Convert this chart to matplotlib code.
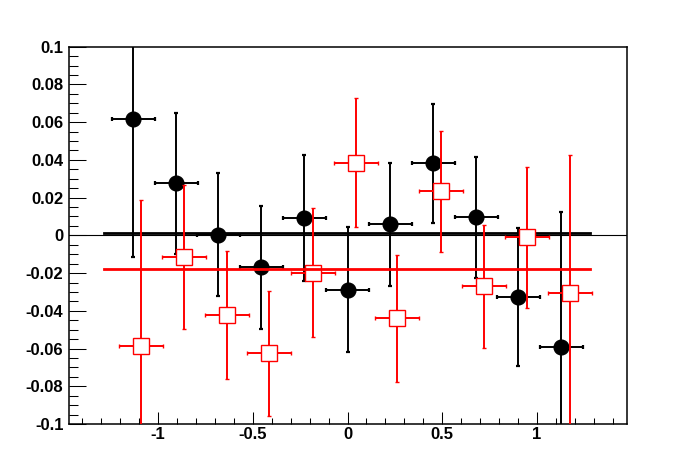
import matplotlib
matplotlib.use("Agg")
import matplotlib.pyplot as plt
from matplotlib.ticker import MultipleLocator, FuncFormatter
import numpy as np

plt.rcParams['font.family'] = ['Liberation Sans', 'DejaVu Sans']
plt.rcParams['axes.unicode_minus'] = False

# Black series (filled circles)
black_x = [-1.130, -0.903, -0.682, -0.455, -0.228, 0.000, 0.226, 0.453, 0.680, 0.901, 1.127]
black_y = [0.0616, 0.0275, 0.0003, -0.0170, 0.0091, -0.0287, 0.0058, 0.0383, 0.0096, -0.0328, -0.0594]
black_yerr = [0.0730, 0.0372, 0.0325, 0.0325, 0.0334, 0.0330, 0.0324, 0.0316, 0.0320, 0.0365, 0.0717]
black_xerr = [0.114] * 11

# Red series (open squares)
red_x = [-1.088, -0.861, -0.635, -0.414, -0.180, 0.046, 0.262, 0.495, 0.722, 0.949, 1.176]
red_y = [-0.0584, -0.0117, -0.0424, -0.0626, -0.0197, 0.0386, -0.0440, 0.0233, -0.0271, -0.0011, -0.0308]
red_yerr = [0.0771, 0.0382, 0.0340, 0.0332, 0.0340, 0.0340, 0.0337, 0.0321, 0.0325, 0.0373, 0.0733]
red_xerr = [0.116] * 11

# Fitted constants and their range
black_fit = 0.0015
red_fit = -0.0176
fit_range = [-1.285, 1.278]

xlim = (-1.47, 1.473)
ylim = (-0.1, 0.1)

fig = plt.figure(figsize=(6.96, 4.72), dpi=100)
ax = fig.add_axes([0.0991, 0.1017, 0.9004 - 0.0991, 0.901 - 0.1017])

ax.errorbar(black_x, black_y, xerr=black_xerr, yerr=black_yerr, fmt='o', color='black',
            ms=10.6, elinewidth=1.4, capsize=1.6, capthick=1.6, zorder=2)
ax.plot(fit_range, [black_fit, black_fit], color='black', lw=2.0, zorder=3)
ax.axhline(0, color='black', lw=0.8, zorder=3)
ax.errorbar(red_x, red_y, xerr=red_xerr, yerr=red_yerr, fmt='s', color='red',
            mfc='white', mec='red', mew=1.0, ms=11.2, elinewidth=1.4, capsize=1.6,
            capthick=1.6, zorder=4)
ax.plot(fit_range, [red_fit, red_fit], color='red', lw=2.0, zorder=5)

ax.set_xlim(*xlim)
ax.set_ylim(*ylim)

ax.xaxis.set_major_locator(MultipleLocator(0.5))
ax.xaxis.set_minor_locator(MultipleLocator(0.1))
ax.yaxis.set_major_locator(MultipleLocator(0.02))
ax.yaxis.set_minor_locator(MultipleLocator(0.005))

def fmt(v, pos):
    s = ('%.2f' % v).rstrip('0').rstrip('.')
    if s in ('-0', '-0.'):
        s = '0'
    return s

ax.xaxis.set_major_formatter(FuncFormatter(fmt))
ax.yaxis.set_major_formatter(FuncFormatter(fmt))

ax.tick_params(axis='both', which='both', direction='in', top=False, right=False, width=0.75)
ax.tick_params(axis='y', which='major', length=12.5, pad=4)
ax.tick_params(axis='y', which='minor', length=6.3)
ax.tick_params(axis='x', which='major', length=8.3, pad=2)
ax.tick_params(axis='x', which='minor', length=4.2)
for lab in ax.get_xticklabels() + ax.get_yticklabels():
    lab.set_fontweight('bold')
    lab.set_fontsize(12)
for sp in ax.spines.values():
    sp.set_linewidth(1.1)

fig.savefig('out.png', dpi=100)
